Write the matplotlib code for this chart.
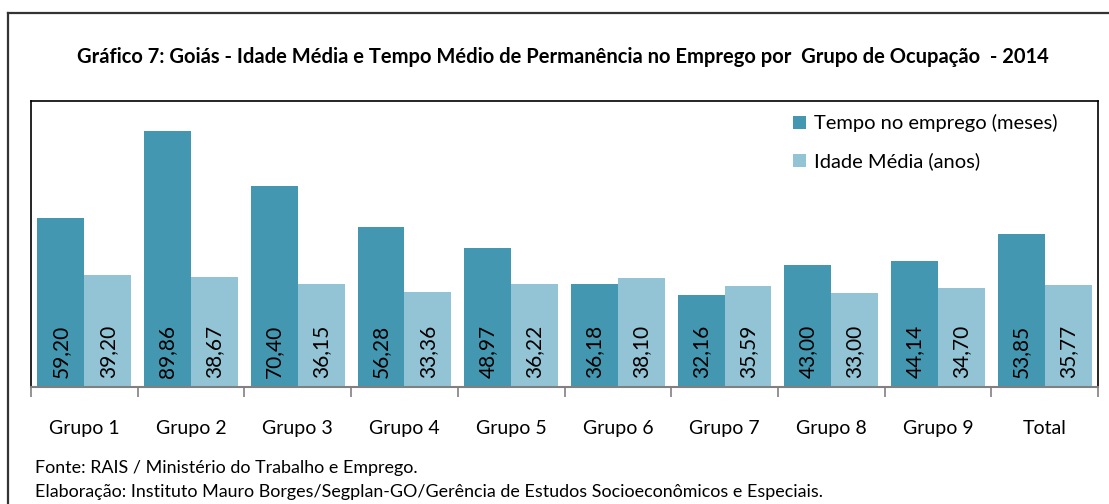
import matplotlib.pyplot as plt
import numpy as np
from matplotlib.lines import Line2D

grupos = ["Grupo 1", "Grupo 2", "Grupo 3", "Grupo 4", "Grupo 5",
          "Grupo 6", "Grupo 7", "Grupo 8", "Grupo 9", "Total"]
tempo = [59.20, 89.86, 70.40, 56.28, 48.97, 36.18, 32.16, 43.00, 44.14, 53.85]
idade = [39.20, 38.67, 36.15, 33.36, 36.22, 38.10, 35.59, 33.00, 34.70, 35.77]

cor_tempo = "#4397B0"
cor_idade = "#93C4D5"

plt.rcParams['font.family'] = ['Lato', 'DejaVu Sans']

fig = plt.figure(figsize=(11.09, 5.04), dpi=100)
W, H = 1109, 504
ax = fig.add_axes([31/W, 1-387/H, (1098-31)/W, (387-101)/H])

x = np.arange(len(grupos))
w = 0.44
b1 = ax.bar(x - w/2, tempo, w, color=cor_tempo, label="Tempo no emprego (meses)")
b2 = ax.bar(x + w/2, idade, w, color=cor_idade, label="Idade Média (anos)")

for bars, vals in ((b1, tempo), (b2, idade)):
    for b, v in zip(bars, vals):
        ax.text(b.get_x() + b.get_width()/2, 3, f"{v:.2f}".replace(".", ","),
                rotation=90, ha="center", va="bottom", fontsize=15, color="black")

ax.set_xlim(-0.5, len(grupos) - 0.5)
ax.set_ylim(0, 100.4)
ax.set_yticks([])
ax.set_xticks(x)
ax.set_xticklabels(grupos, fontsize=14)
ax.set_xticks(np.arange(len(grupos) + 1) - 0.5, minor=True)
ax.tick_params(axis="x", which="major", length=0, pad=24)
ax.tick_params(axis="x", which="minor", length=7, width=1.2, color="#808080")
for s in ("left", "top", "right"):
    ax.spines[s].set_color("black")
    ax.spines[s].set_linewidth(1.2)
ax.spines["bottom"].set_color("#808080")
ax.spines["bottom"].set_linewidth(1.5)

ax.legend(loc="upper right", frameon=False, fontsize=14.5, handlelength=0.65,
          handleheight=0.65, handletextpad=0.4, labelspacing=1.0,
          bbox_to_anchor=(0.979, 1.017))

fig.text(0.508, 1-57/H,
         "Gráfico 7: Goiás - Idade Média e Tempo Médio de Permanência no Emprego por  Grupo de Ocupação  - 2014",
         ha="center", va="center", fontsize=14.5, fontweight="bold")
fig.text(35/W, 1-468/H, "Fonte: RAIS / Ministério do Trabalho e Emprego.",
         ha="left", va="center", fontsize=12.9)
fig.text(35/W, 1-492/H,
         "Elaboração: Instituto Mauro Borges/Segplan-GO/Gerência de Estudos Socioeconômicos e Especiais.",
         ha="left", va="center", fontsize=12.9)

# outer frame (cut off at right/bottom)
fig.add_artist(Line2D([8/W, 1], [1-13/H, 1-13/H], color="#333333", lw=1.6))
fig.add_artist(Line2D([8/W, 8/W], [0, 1-13/H], color="#333333", lw=1.6))

fig.savefig("out.png", dpi=100)
